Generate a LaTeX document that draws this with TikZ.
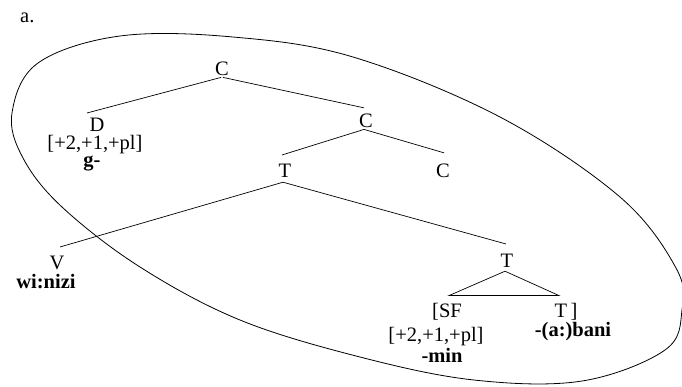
\documentclass[tikz,border=0pt]{standalone}
\usepackage{fontspec}
\setmainfont{Liberation Serif}
\begin{document}
\begin{tikzpicture}[x=1pt,y=-1pt,
  lab/.style={anchor=base,inner sep=0pt,font=\fontsize{20.5}{24}\selectfont},
  bl/.style={anchor=base,inner sep=0pt,font=\fontsize{20.5}{24}\selectfont\bfseries},
  edge/.style={line width=0.7pt},
  loop/.style={line width=0.8pt}]
\useasboundingbox (0,0) rectangle (682,386);
% enclosing loop
\draw[loop] plot[smooth cycle,tension=0.6] coordinates {
 (12,113) (38,63) (120,36) (233,37) (353,57) (500,117) (620,197)
 (676,268) (682,310) (665,350) (582,381) (474,380) (360,357)
 (240,320) (140,267) (62,207) (23,158)};
% label
\node[lab,anchor=base west] (lbl) at (20,22) {a.};
% tree nodes
\node[lab] (C1) at (222,75) {C};
\node[lab] (D) at (97,131) {D};
\node[lab] (Dfeat) at (95,149) {[+2,+1,+pl]};
\node[bl] (g) at (92,166) {g-};
\node[lab] (C2) at (366,127) {C};
\node[lab] (C3) at (443,177) {C};
\node[lab] (T1) at (285,177) {T};
\node[lab] (V) at (57,269) {V};
\node[bl] (wi) at (46,288) {wi:nizi};
\node[lab] (T2) at (507,267) {T};
\node[lab] (SF) at (447,317) {[SF};
\node[lab] (Tb) at (566,317) {T\,]};
\node[lab] (SFfeat) at (436,341) {[+2,+1,+pl]};
\node[bl] (min) at (442,362) {-min};
\node[bl] (bani) at (573,336) {-(a:)bani};
% branches
\draw[edge] ([shift={(-1,2)}]C1.south) -- ([shift={(-10,-4.4)}]D.north);
\draw[edge] ([shift={(1,2)}]C1.south) -- ([shift={(-2,-5.4)}]C2.north);
\draw[edge] ([shift={(-2,2)}]C2.south) -- ([shift={(-3,-8.4)}]T1.north);
\draw[edge] ([shift={(-2,2)}]C2.south) -- ([shift={(1,-10.4)}]C3.north);
\draw[edge] ([shift={(-2,5)}]T1.south) -- ([shift={(3,-8.4)}]V.north);
\draw[edge] ([shift={(-2,5)}]T1.south) -- ([shift={(-1,-9.4)}]T2.north);
\draw[edge] ([shift={(-2,4)}]T2.south) -- ([shift={(2,-7)}]SF.north)
  -- ([shift={(-7,-7)}]Tb.north) -- cycle;
\end{tikzpicture}
\end{document}
